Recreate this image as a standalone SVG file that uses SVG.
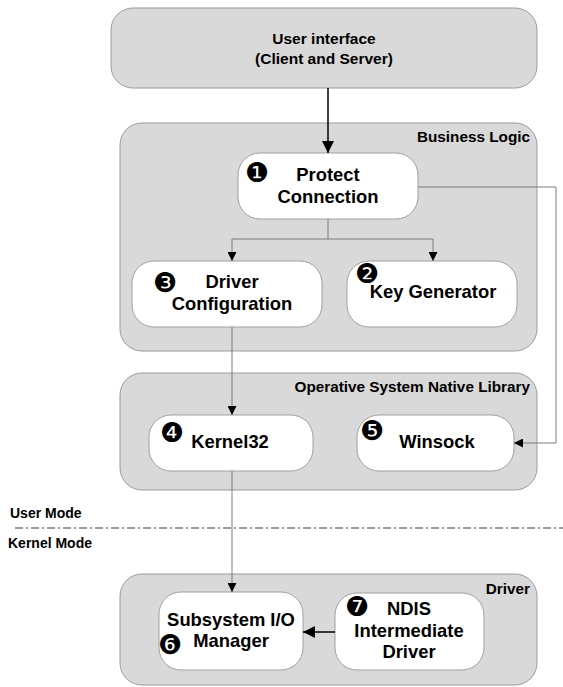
<svg xmlns="http://www.w3.org/2000/svg" width="563" height="687" viewBox="0 0 563 687">
<style>
.grp{fill:#d9d9d9;stroke:#9a9a9a;stroke-width:1}
.node{fill:#ffffff;stroke:#a0a0a0;stroke-width:1}
.t{font-family:"Liberation Sans",Arial,sans-serif;font-weight:bold;fill:#000}
.nt{font-size:18.4px;text-anchor:middle}
.lbl{font-size:15.3px;text-anchor:end}
.num{font-family:"DejaVu Sans",sans-serif;font-size:27px;text-anchor:middle;fill:#000}
.c{fill:none;stroke:#7a7a7a;stroke-width:1}
.cb{fill:none;stroke:#000;stroke-width:1.5}
</style>
<defs>
<marker id="a" viewBox="0 0 10 10" refX="10" refY="5" markerWidth="9" markerHeight="9" markerUnits="userSpaceOnUse" orient="auto">
<path d="M0,0 L10,5 L0,10 z" fill="#000"/>
</marker>
<marker id="ab" viewBox="0 0 10 10" refX="10" refY="5" markerWidth="14" markerHeight="12" markerUnits="userSpaceOnUse" orient="auto">
<path d="M0,0 L10,5 L0,10 z" fill="#000"/>
</marker>
</defs>

<g id="user-interface">
<rect class="grp" x="111" y="8" width="426" height="80" rx="22"/>
<text class="t" x="324" y="44" font-size="15.5" text-anchor="middle">User interface</text>
<text class="t" x="324" y="64" font-size="15.5" text-anchor="middle">(Client and Server)</text>
</g>

<g id="business-logic">
<rect class="grp" x="120" y="123" width="417" height="228" rx="22"/>
<text class="t lbl" x="530" y="142">Business Logic</text>
</g>

<g id="os-native-library">
<rect class="grp" x="120" y="373" width="417" height="117" rx="22"/>
<text class="t lbl" x="530" y="392">Operative System Native Library</text>
</g>

<g id="driver-group">
<rect class="grp" x="120" y="574" width="417" height="111" rx="22"/>
<text class="t lbl" x="530" y="594">Driver</text>
</g>

<g id="protect-connection">
<rect class="node" x="238" y="153" width="180" height="66" rx="22"/>
<text class="num" x="257" y="181.5">❶</text>
<text class="t nt" x="328" y="181">Protect</text>
<text class="t nt" x="328" y="203">Connection</text>
</g>

<g id="driver-configuration">
<rect class="node" x="132" y="261" width="190" height="66" rx="22"/>
<text class="num" x="165" y="291.5">❸</text>
<text class="t nt" x="232" y="288">Driver</text>
<text class="t nt" x="232" y="310">Configuration</text>
</g>

<g id="key-generator">
<rect class="node" x="347" y="261" width="170" height="66" rx="22"/>
<text class="num" x="367" y="282.5">❷</text>
<text class="t nt" x="433" y="298">Key Generator</text>
</g>

<g id="kernel32">
<rect class="node" x="149" y="415" width="164" height="56" rx="22"/>
<text class="num" x="172" y="441.5">❹</text>
<text class="t nt" x="230" y="448">Kernel32</text>
</g>

<g id="winsock">
<rect class="node" x="357" y="415" width="157" height="56" rx="22"/>
<text class="num" x="372" y="439.5">❺</text>
<text class="t nt" x="437" y="448">Winsock</text>
</g>

<g id="subsystem-io-manager">
<rect class="node" x="159" y="592" width="144" height="78" rx="22"/>
<text class="num" x="170" y="653.5">❻</text>
<text class="t nt" x="231" y="626">Subsystem I/O</text>
<text class="t nt" x="231" y="647">Manager</text>
</g>

<g id="ndis-intermediate-driver">
<rect class="node" x="335" y="593" width="149" height="77" rx="22"/>
<text class="num" x="357" y="615.5">❼</text>
<text class="t nt" x="409" y="615">NDIS</text>
<text class="t nt" x="409" y="637">Intermediate</text>
<text class="t nt" x="409" y="658">Driver</text>
</g>

<g id="mode-boundary">
<text class="t" x="10" y="518" font-size="14">User Mode</text>
<line x1="15" y1="528" x2="563" y2="528" stroke="#333" stroke-width="1" stroke-dasharray="8,3,2,3"/>
<text class="t" x="8" y="548" font-size="14">Kernel Mode</text>
</g>

<g id="connectors">
<line class="cb" x1="328" y1="88" x2="328" y2="153" marker-end="url(#ab)"/>
<polyline class="c" points="328,219 328,239"/>
<polyline class="c" points="232,239 433,239"/>
<line class="c" x1="232" y1="239" x2="232" y2="261" marker-end="url(#a)"/>
<line class="c" x1="433" y1="239" x2="433" y2="261" marker-end="url(#a)"/>
<polyline class="c" points="418,187 556,187 556,443 514,443" marker-end="url(#a)"/>
<line class="c" x1="232" y1="327" x2="232" y2="415" marker-end="url(#a)"/>
<line class="c" x1="232" y1="471" x2="232" y2="592" marker-end="url(#a)"/>
<line class="cb" x1="335" y1="632" x2="303" y2="632" marker-end="url(#ab)"/>
</g>
</svg>
